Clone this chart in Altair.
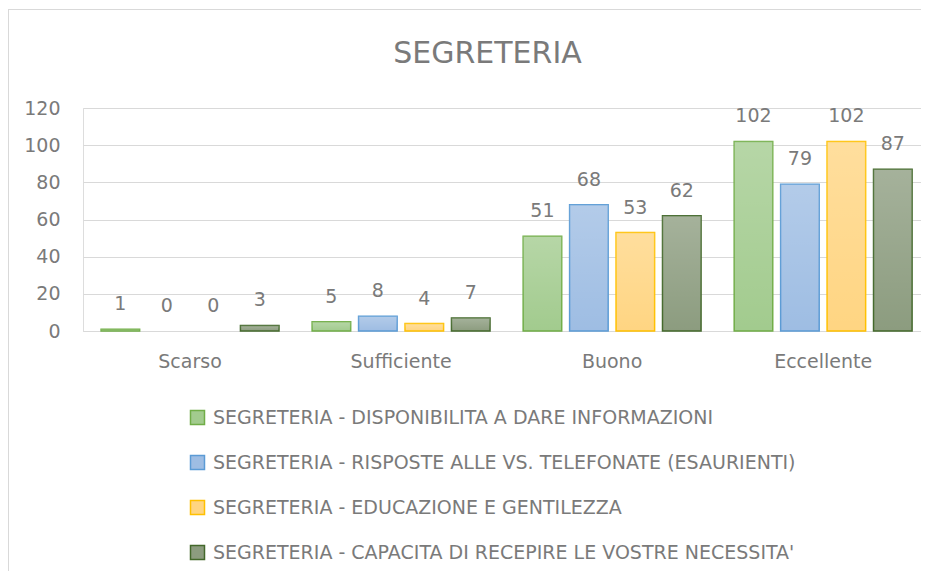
import altair as alt
import pandas as pd

categories = ["Scarso", "Sufficiente", "Buono", "Eccellente"]
series = [
    "SEGRETERIA - DISPONIBILITA A DARE INFORMAZIONI",
    "SEGRETERIA - RISPOSTE ALLE VS. TELEFONATE (ESAURIENTI)",
    "SEGRETERIA - EDUCAZIONE E GENTILEZZA",
    "SEGRETERIA - CAPACITA DI RECEPIRE LE VOSTRE NECESSITA'",
]
values_disponibilita = [1, 5, 51, 102]
values_risposte = [0, 8, 68, 79]
values_educazione = [0, 4, 53, 102]
values_capacita = [3, 7, 62, 87]
y_ticks = [0, 20, 40, 60, 80, 100, 120]
chart_title = "SEGRETERIA"

fill_colors = ["#a2cb8e", "#9ebde3", "#ffd582", "#8c9c7f"]
stroke_colors = ["#70ad47", "#5b9bd5", "#ffc000", "#43682b"]
GRAY = "#7a7a7a"
FONT = "DejaVu Sans"

rows = []
for s, vals in zip(series, [values_disponibilita, values_risposte, values_educazione, values_capacita]):
    for c, v in zip(categories, vals):
        rows.append({"categoria": c, "serie": s, "valore": v})
df = pd.DataFrame(rows)

W, H = 838, 223

x = alt.X("categoria:N", sort=categories,
          scale=alt.Scale(domain=categories, paddingInner=0.157, paddingOuter=0.064, align=0.67),
          axis=alt.Axis(title=None, labelAngle=0, labelFontSize=19, labelColor=GRAY,
                        labelFont=FONT, ticks=False, domainColor="#d9d9d9",
                        labelPadding=21))
xo = alt.XOffset("serie:N", scale=alt.Scale(domain=series, paddingInner=0.17, paddingOuter=0))
y = alt.Y("valore:Q", scale=alt.Scale(domain=[0, 120]),
          axis=alt.Axis(title=None, values=y_ticks, grid=True, gridColor="#d9d9d9",
                        domain=False, ticks=False, labelPadding=23, labelFontSize=19,
                        labelColor=GRAY, labelFont=FONT))

legend = alt.Legend(title=None, orient="none", legendX=105, legendY=300,
                    direction="vertical", symbolType="square", symbolSize=196,
                    symbolStrokeWidth=1.5, labelFontSize=19, labelColor=GRAY,
                    labelFont=FONT, labelLimit=800, rowPadding=24, labelOffset=6)

base = alt.Chart(df)

bars = base.transform_filter(alt.datum.valore > 0).mark_bar(strokeWidth=1.5).encode(
    x=x, xOffset=xo, y=y,
    fill=alt.Fill("serie:N", scale=alt.Scale(domain=series, range=fill_colors), legend=legend),
    stroke=alt.Stroke("serie:N", scale=alt.Scale(domain=series, range=stroke_colors), legend=legend),
)

overlay = base.transform_filter(alt.datum.valore > 0).mark_bar(
    strokeWidth=0,
    fill=alt.Gradient(gradient="linear", x1=0, y1=0, x2=0, y2=1,
                      stops=[alt.GradientStop(offset=0, color="rgba(255,255,255,0.22)"),
                             alt.GradientStop(offset=1, color="rgba(255,255,255,0)")]),
).encode(x=x, xOffset=xo, y=y)

labels = base.mark_text(dy=-19, baseline="alphabetic", fontSize=19, color=GRAY, font=FONT).encode(
    x=x, xOffset=xo, y=y, text=alt.Text("valore:Q"))

frame_df = pd.DataFrame({"k": [0]})
frame_left = alt.Chart(frame_df).mark_rule(color="#d9d9d9", strokeWidth=1).encode(
    x=alt.value(-74.5), y=alt.value(-99), y2=alt.value(H + 240))
frame_top = alt.Chart(frame_df).mark_rule(color="#d9d9d9", strokeWidth=1).encode(
    x=alt.value(-74.5), x2=alt.value(W), y=alt.value(-98.5))
title = alt.Chart(frame_df).mark_text(
    text=chart_title, fontSize=30, font=FONT, color=GRAY, align="center", baseline="alphabetic"
).encode(x=alt.value(404.5), y=alt.value(-45))

chart = alt.layer(frame_left, frame_top, title, bars, overlay, labels).properties(
    width=W, height=H,
    padding={"left": 75, "top": 100, "right": 0, "bottom": 240},
    autosize=alt.AutoSizeParams(type="none"),
).configure_view(stroke=None).configure(background="white")

chart.save("out.html", embed_options={"renderer": "svg", "actions": False})
